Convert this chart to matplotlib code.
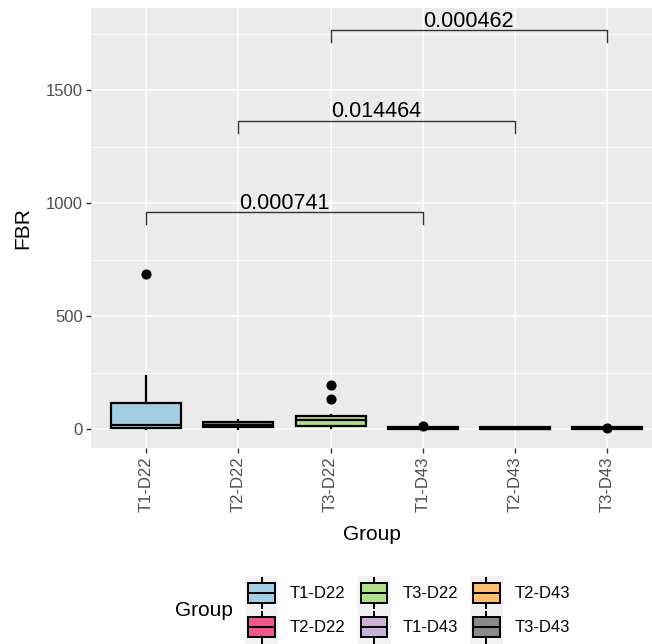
import numpy as np
import matplotlib
matplotlib.use("Agg")
import matplotlib.pyplot as plt
from matplotlib.patches import Patch, Rectangle
from matplotlib.lines import Line2D
from matplotlib.legend_handler import HandlerBase

plt.rcParams['font.family'] = ['Liberation Sans', 'DejaVu Sans']

# box statistics
groups = ['T1-D22', 'T2-D22', 'T3-D22', 'T1-D43', 'T2-D43', 'T3-D43']
q1 = [6, 8, 12, 0, 0, 0]
med = [18, 20, 38, 3, 2, 3]
q3 = [116, 33, 58, 8, 7, 7]
whislo = [0, 0, 3, 0, 0, 0]
whishi = [234, 40, 60, 9, 8, 8]
fliers = [[686], [], [196, 133], [12], [], [3]]
colors = ['#A6CEE3', '#F0588A', '#B2DF8A', '#CAB2D6', '#FDBF6F', '#8A8A8A']

# pairwise comparisons: (group a, group b, bracket height, p-value)
comp_a = ['T1-D22', 'T2-D22', 'T3-D22']
comp_b = ['T1-D43', 'T2-D43', 'T3-D43']
comp_y = [959, 1364, 1765]
comp_p = ['0.000741', '0.014464', '0.000462']


class BoxKey(HandlerBase):
    def create_artists(self, legend, orig_handle, xdescent, ydescent,
                       width, height, fontsize, trans):
        x0, y0 = -xdescent, -ydescent
        bg = Rectangle((x0, y0), width, height, facecolor='#F2F2F2',
                       edgecolor='none', transform=trans)
        bw, bh = width * 0.8, height * 0.58
        bx = x0 + (width - bw) / 2
        by = y0 + (height - bh) / 2
        box = Rectangle((bx, by), bw, bh, facecolor=orig_handle.get_facecolor(),
                        edgecolor='black', lw=1.4, transform=trans)
        cx, cy = x0 + width / 2, y0 + height / 2
        m = Line2D([bx, bx + bw], [cy, cy], color='black', lw=1.4, transform=trans)
        w1 = Line2D([cx, cx], [by + bh, y0 + height * 0.95], color='black', lw=1.4, transform=trans)
        w2 = Line2D([cx, cx], [y0 + height * 0.05, by], color='black', lw=1.4, transform=trans)
        return [bg, box, m, w1, w2]


fig = plt.figure(figsize=(6.52, 6.44), dpi=100)
ax = fig.add_axes([91 / 652, 1 - 448 / 644, 1 - 91 / 652, 440 / 644])
ax.set_facecolor('#EBEBEB')

stats = []
for i in range(len(groups)):
    stats.append(dict(med=med[i], q1=q1[i], q3=q3[i], whislo=whislo[i],
                      whishi=whishi[i], fliers=fliers[i]))

pos = np.arange(1, len(groups) + 1)
bp = ax.bxp(stats, positions=pos, widths=0.76, patch_artist=True, showcaps=False,
            boxprops=dict(edgecolor='black', linewidth=1.6),
            medianprops=dict(color='black', linewidth=1.6),
            whiskerprops=dict(color='black', linewidth=1.6),
            flierprops=dict(marker='o', markerfacecolor='black', markeredgecolor='black',
                            markersize=6.3))
for patch, c in zip(bp['boxes'], colors):
    patch.set_facecolor(c)
for a in bp.values():
    for art in a:
        art.set_zorder(3)

# significance brackets
for a, b, y, p in zip(comp_a, comp_b, comp_y, comp_p):
    xa = groups.index(a) + 1
    xb = groups.index(b) + 1
    ax.plot([xa, xa, xb, xb], [y - 52, y, y, y - 52], color='#333333', lw=1.0, zorder=4)
    ax.text((xa + xb) / 2, y + 17, p, ha='center', va='baseline', fontsize=15.5,
            color='black', zorder=4)

ax.set_xlim(0.4, 6.49)
ax.set_ylim(-84, 1864)
ax.set_xticks(pos)
ax.set_xticklabels(groups, rotation=90)
ax.set_yticks([0, 500, 1000, 1500])
ax.set_yticks([250, 750, 1250, 1750], minor=True)
ax.grid(which='major', color='white', lw=1.1)
ax.grid(which='minor', color='white', lw=0.55)
ax.set_axisbelow(True)
ax.tick_params(axis='both', which='major', length=3.5, width=1, color='#333333',
               labelcolor='#4D4D4D', labelsize=12, pad=2.5)
ax.tick_params(axis='both', which='minor', length=0)
for s in ax.spines.values():
    s.set_visible(False)

ax.set_xlabel('Group', fontsize=15)
ax.set_ylabel('FBR', fontsize=15)
ax.xaxis.set_label_coords(0.5, -0.175)
ax.yaxis.set_label_coords(-0.104, 0.5)

handles = [Patch(facecolor=c, label=g) for g, c in zip(groups, colors)]
fig.legend(handles=handles, handler_map={Patch: BoxKey()}, ncol=3,
           loc='upper left', bbox_to_anchor=(245 / 652, 1 - 576 / 644),
           bbox_transform=fig.transFigure, frameon=False, fontsize=12,
           handlelength=2.0, handleheight=2.76, labelspacing=0.02,
           handletextpad=0.7, columnspacing=0.7, borderpad=0, borderaxespad=0)
fig.text(175 / 652, 1 - 610 / 644, 'Group', fontsize=15, ha='left', va='center')

fig.savefig('out.png', dpi=100)
